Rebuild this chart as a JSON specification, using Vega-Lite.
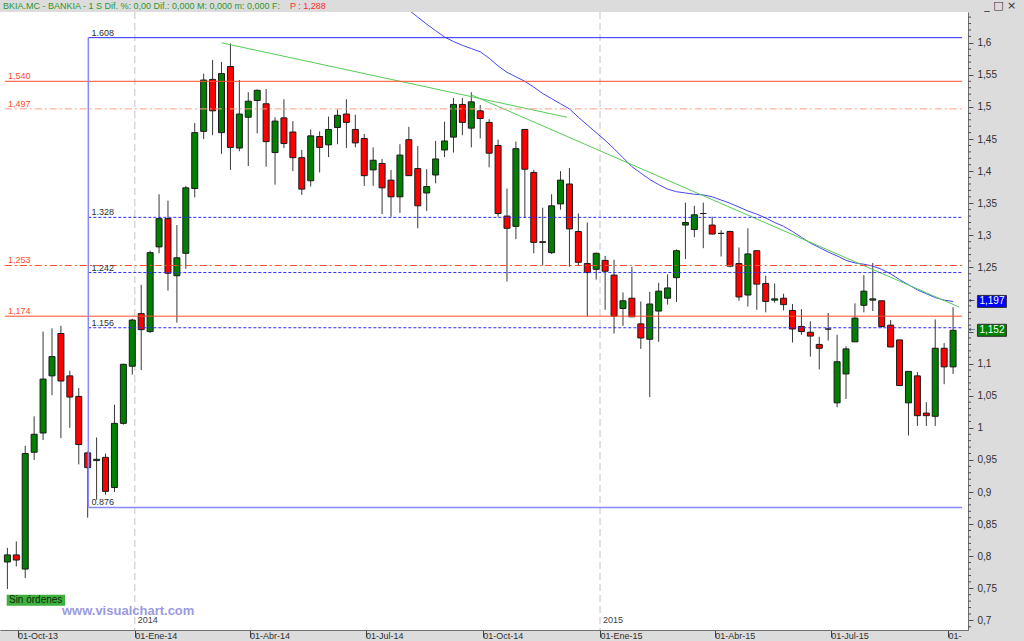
{
  "$schema": "https://vega.github.io/schema/vega-lite/v6.json",
  "width": 968,
  "height": 618,
  "autosize": {"type": "none"},
  "padding": {"left": 0, "top": 12, "right": 56, "bottom": 11},
  "background": "#dcdcdc",
  "config": {"view": {"fill": "#ffffff", "stroke": null}, "font": "Liberation Sans", "axis": {"labelOverlap": false}},
  "datasets": {
    "velas": [
      {"d":"2013-09-23","o":0.791,"h":0.813,"l":0.749,"c":0.802},
      {"d":"2013-09-30","o":0.802,"h":0.823,"l":0.784,"c":0.794},
      {"d":"2013-10-07","o":0.780,"h":0.972,"l":0.766,"c":0.960},
      {"d":"2013-10-14","o":0.962,"h":1.018,"l":0.950,"c":0.990},
      {"d":"2013-10-21","o":0.992,"h":1.150,"l":0.981,"c":1.076},
      {"d":"2013-10-28","o":1.081,"h":1.155,"l":1.051,"c":1.111},
      {"d":"2013-11-04","o":1.147,"h":1.159,"l":0.984,"c":1.073},
      {"d":"2013-11-11","o":1.081,"h":1.089,"l":1.000,"c":1.048},
      {"d":"2013-11-18","o":1.049,"h":1.062,"l":0.943,"c":0.974},
      {"d":"2013-11-25","o":0.961,"h":0.963,"l":0.860,"c":0.938},
      {"d":"2013-12-02","o":0.949,"h":0.985,"l":0.888,"c":0.951},
      {"d":"2013-12-09","o":0.954,"h":0.960,"l":0.896,"c":0.901},
      {"d":"2013-12-16","o":0.907,"h":1.036,"l":0.900,"c":1.007},
      {"d":"2013-12-23","o":1.007,"h":1.100,"l":1.005,"c":1.099},
      {"d":"2013-12-30","o":1.096,"h":1.170,"l":1.083,"c":1.168},
      {"d":"2014-01-06","o":1.178,"h":1.223,"l":1.090,"c":1.153},
      {"d":"2014-01-13","o":1.150,"h":1.276,"l":1.148,"c":1.273},
      {"d":"2014-01-20","o":1.282,"h":1.364,"l":1.272,"c":1.326},
      {"d":"2014-01-27","o":1.326,"h":1.354,"l":1.214,"c":1.241},
      {"d":"2014-02-03","o":1.237,"h":1.316,"l":1.164,"c":1.265},
      {"d":"2014-02-10","o":1.272,"h":1.377,"l":1.248,"c":1.374},
      {"d":"2014-02-17","o":1.373,"h":1.475,"l":1.359,"c":1.460},
      {"d":"2014-02-24","o":1.462,"h":1.552,"l":1.450,"c":1.542},
      {"d":"2014-03-03","o":1.543,"h":1.573,"l":1.456,"c":1.494},
      {"d":"2014-03-10","o":1.460,"h":1.570,"l":1.427,"c":1.552},
      {"d":"2014-03-17","o":1.563,"h":1.599,"l":1.402,"c":1.437},
      {"d":"2014-03-24","o":1.436,"h":1.542,"l":1.431,"c":1.489},
      {"d":"2014-03-31","o":1.484,"h":1.523,"l":1.408,"c":1.509},
      {"d":"2014-04-07","o":1.510,"h":1.527,"l":1.459,"c":1.526},
      {"d":"2014-04-14","o":1.505,"h":1.528,"l":1.407,"c":1.446},
      {"d":"2014-04-21","o":1.429,"h":1.484,"l":1.379,"c":1.478},
      {"d":"2014-04-28","o":1.483,"h":1.512,"l":1.436,"c":1.443},
      {"d":"2014-05-05","o":1.461,"h":1.478,"l":1.400,"c":1.421},
      {"d":"2014-05-12","o":1.421,"h":1.433,"l":1.363,"c":1.372},
      {"d":"2014-05-19","o":1.385,"h":1.465,"l":1.376,"c":1.455},
      {"d":"2014-05-26","o":1.454,"h":1.462,"l":1.398,"c":1.437},
      {"d":"2014-06-02","o":1.441,"h":1.485,"l":1.422,"c":1.465},
      {"d":"2014-06-09","o":1.468,"h":1.496,"l":1.442,"c":1.487},
      {"d":"2014-06-16","o":1.489,"h":1.512,"l":1.436,"c":1.476},
      {"d":"2014-06-23","o":1.465,"h":1.488,"l":1.437,"c":1.444},
      {"d":"2014-06-30","o":1.451,"h":1.458,"l":1.377,"c":1.393},
      {"d":"2014-07-07","o":1.402,"h":1.437,"l":1.377,"c":1.417},
      {"d":"2014-07-14","o":1.412,"h":1.419,"l":1.333,"c":1.374},
      {"d":"2014-07-21","o":1.386,"h":1.402,"l":1.329,"c":1.360},
      {"d":"2014-07-28","o":1.360,"h":1.442,"l":1.335,"c":1.425},
      {"d":"2014-08-04","o":1.449,"h":1.469,"l":1.393,"c":1.393},
      {"d":"2014-08-11","o":1.404,"h":1.439,"l":1.311,"c":1.346},
      {"d":"2014-08-18","o":1.366,"h":1.403,"l":1.338,"c":1.376},
      {"d":"2014-08-25","o":1.394,"h":1.447,"l":1.381,"c":1.419},
      {"d":"2014-09-01","o":1.433,"h":1.477,"l":1.422,"c":1.447},
      {"d":"2014-09-08","o":1.453,"h":1.514,"l":1.429,"c":1.504},
      {"d":"2014-09-15","o":1.504,"h":1.514,"l":1.456,"c":1.476},
      {"d":"2014-09-22","o":1.467,"h":1.523,"l":1.437,"c":1.508},
      {"d":"2014-09-29","o":1.494,"h":1.503,"l":1.451,"c":1.482},
      {"d":"2014-10-06","o":1.476,"h":1.481,"l":1.406,"c":1.428},
      {"d":"2014-10-13","o":1.440,"h":1.449,"l":1.329,"c":1.334},
      {"d":"2014-10-20","o":1.330,"h":1.373,"l":1.228,"c":1.311},
      {"d":"2014-10-27","o":1.314,"h":1.446,"l":1.294,"c":1.435},
      {"d":"2014-11-03","o":1.465,"h":1.465,"l":1.327,"c":1.403},
      {"d":"2014-11-10","o":1.398,"h":1.402,"l":1.272,"c":1.289},
      {"d":"2014-11-17","o":1.290,"h":1.343,"l":1.253,"c":1.289},
      {"d":"2014-11-24","o":1.273,"h":1.364,"l":1.271,"c":1.346},
      {"d":"2014-12-01","o":1.349,"h":1.400,"l":1.340,"c":1.386},
      {"d":"2014-12-08","o":1.380,"h":1.405,"l":1.251,"c":1.310},
      {"d":"2014-12-15","o":1.306,"h":1.334,"l":1.252,"c":1.258},
      {"d":"2014-12-22","o":1.256,"h":1.320,"l":1.174,"c":1.242},
      {"d":"2014-12-29","o":1.247,"h":1.273,"l":1.231,"c":1.272},
      {"d":"2015-01-05","o":1.261,"h":1.268,"l":1.184,"c":1.244},
      {"d":"2015-01-12","o":1.238,"h":1.262,"l":1.147,"c":1.174},
      {"d":"2015-01-19","o":1.186,"h":1.211,"l":1.159,"c":1.198},
      {"d":"2015-01-26","o":1.202,"h":1.251,"l":1.173,"c":1.173},
      {"d":"2015-02-02","o":1.162,"h":1.197,"l":1.123,"c":1.140},
      {"d":"2015-02-09","o":1.138,"h":1.212,"l":1.048,"c":1.193},
      {"d":"2015-02-16","o":1.182,"h":1.226,"l":1.134,"c":1.213},
      {"d":"2015-02-23","o":1.202,"h":1.239,"l":1.192,"c":1.218},
      {"d":"2015-03-02","o":1.234,"h":1.278,"l":1.196,"c":1.276},
      {"d":"2015-03-09","o":1.316,"h":1.351,"l":1.263,"c":1.320},
      {"d":"2015-03-16","o":1.309,"h":1.346,"l":1.297,"c":1.332},
      {"d":"2015-03-23","o":1.334,"h":1.351,"l":1.280,"c":1.334},
      {"d":"2015-03-30","o":1.316,"h":1.329,"l":1.302,"c":1.302},
      {"d":"2015-04-06","o":1.303,"h":1.308,"l":1.267,"c":1.303},
      {"d":"2015-04-13","o":1.306,"h":1.307,"l":1.250,"c":1.252},
      {"d":"2015-04-20","o":1.256,"h":1.281,"l":1.198,"c":1.204},
      {"d":"2015-04-27","o":1.207,"h":1.311,"l":1.189,"c":1.271},
      {"d":"2015-05-04","o":1.276,"h":1.276,"l":1.184,"c":1.224},
      {"d":"2015-05-11","o":1.225,"h":1.237,"l":1.180,"c":1.197},
      {"d":"2015-05-18","o":1.199,"h":1.225,"l":1.195,"c":1.201},
      {"d":"2015-05-25","o":1.202,"h":1.209,"l":1.183,"c":1.192},
      {"d":"2015-06-01","o":1.183,"h":1.193,"l":1.133,"c":1.154},
      {"d":"2015-06-08","o":1.158,"h":1.185,"l":1.145,"c":1.150},
      {"d":"2015-06-15","o":1.149,"h":1.166,"l":1.111,"c":1.143},
      {"d":"2015-06-22","o":1.130,"h":1.142,"l":1.091,"c":1.124},
      {"d":"2015-06-29","o":1.154,"h":1.179,"l":1.136,"c":1.154},
      {"d":"2015-07-06","o":1.039,"h":1.145,"l":1.032,"c":1.103},
      {"d":"2015-07-13","o":1.084,"h":1.127,"l":1.045,"c":1.123},
      {"d":"2015-07-20","o":1.134,"h":1.194,"l":1.134,"c":1.171},
      {"d":"2015-07-27","o":1.191,"h":1.238,"l":1.180,"c":1.213},
      {"d":"2015-08-03","o":1.199,"h":1.257,"l":1.182,"c":1.201},
      {"d":"2015-08-10","o":1.198,"h":1.198,"l":1.156,"c":1.158},
      {"d":"2015-08-17","o":1.160,"h":1.168,"l":1.126,"c":1.126},
      {"d":"2015-08-24","o":1.137,"h":1.137,"l":1.066,"c":1.066},
      {"d":"2015-08-31","o":1.039,"h":1.088,"l":0.988,"c":1.088},
      {"d":"2015-09-07","o":1.081,"h":1.087,"l":1.003,"c":1.019},
      {"d":"2015-09-14","o":1.023,"h":1.040,"l":1.003,"c":1.019},
      {"d":"2015-09-21","o":1.018,"h":1.169,"l":1.003,"c":1.124},
      {"d":"2015-09-28","o":1.124,"h":1.132,"l":1.068,"c":1.095},
      {"d":"2015-10-05","o":1.095,"h":1.188,"l":1.084,"c":1.152}
    ],
    "media": [
      {"d":"2014-07-28","v":1.662},{"d":"2014-08-04","v":1.651},{"d":"2014-08-11","v":1.640},{"d":"2014-08-18","v":1.629},
      {"d":"2014-08-25","v":1.619},{"d":"2014-09-01","v":1.609},{"d":"2014-09-08","v":1.602},{"d":"2014-09-15","v":1.596},
      {"d":"2014-09-22","v":1.591},{"d":"2014-09-29","v":1.586},{"d":"2014-10-06","v":1.576},{"d":"2014-10-13","v":1.564},
      {"d":"2014-10-20","v":1.554},{"d":"2014-10-27","v":1.547},{"d":"2014-11-03","v":1.540},{"d":"2014-11-10","v":1.531},
      {"d":"2014-11-17","v":1.521},{"d":"2014-11-24","v":1.513},{"d":"2014-12-01","v":1.505},{"d":"2014-12-08","v":1.497},
      {"d":"2014-12-15","v":1.484},{"d":"2014-12-22","v":1.472},{"d":"2014-12-29","v":1.460},{"d":"2015-01-05","v":1.448},
      {"d":"2015-01-12","v":1.435},{"d":"2015-01-19","v":1.421},{"d":"2015-01-26","v":1.407},{"d":"2015-02-02","v":1.397},
      {"d":"2015-02-09","v":1.387},{"d":"2015-02-16","v":1.379},{"d":"2015-02-23","v":1.372},{"d":"2015-03-02","v":1.368},
      {"d":"2015-03-09","v":1.366},{"d":"2015-03-16","v":1.364},{"d":"2015-03-23","v":1.363},{"d":"2015-03-30","v":1.360},
      {"d":"2015-04-06","v":1.355},{"d":"2015-04-13","v":1.350},{"d":"2015-04-20","v":1.344},{"d":"2015-04-27","v":1.338},
      {"d":"2015-05-04","v":1.333},{"d":"2015-05-11","v":1.327},{"d":"2015-05-18","v":1.320},{"d":"2015-05-25","v":1.314},
      {"d":"2015-06-01","v":1.306},{"d":"2015-06-08","v":1.297},{"d":"2015-06-15","v":1.288},{"d":"2015-06-22","v":1.281},
      {"d":"2015-06-29","v":1.274},{"d":"2015-07-06","v":1.268},{"d":"2015-07-13","v":1.261},{"d":"2015-07-20","v":1.257},
      {"d":"2015-07-27","v":1.255},{"d":"2015-08-03","v":1.252},{"d":"2015-08-10","v":1.247},{"d":"2015-08-17","v":1.240},
      {"d":"2015-08-24","v":1.231},{"d":"2015-08-31","v":1.223},{"d":"2015-09-07","v":1.215},{"d":"2015-09-14","v":1.209},
      {"d":"2015-09-21","v":1.203},{"d":"2015-09-28","v":1.199},{"d":"2015-10-05","v":1.197}
    ],
    "tendencias": [
      {"id":"a","d":"2014-03-10","v":1.600},{"id":"a","d":"2014-12-06","v":1.484},
      {"id":"b","d":"2014-09-22","v":1.519},{"id":"b","d":"2015-10-10","v":1.188}
    ],
    "niveles": [
      {"v":1.540,"t":"1,540","g":"rojo"},
      {"v":1.174,"t":"1,174","g":"rojo"},
      {"v":1.253,"t":"1,253","g":"rojoDash"},
      {"v":1.497,"t":"1,497","g":"rojoClaro"},
      {"v":1.328,"t":"1.328","g":"fibo"},
      {"v":1.242,"t":"1.242","g":"fibo"},
      {"v":1.156,"t":"1.156","g":"fibo"},
      {"v":1.608,"t":"1.608","g":"rangoAlto"},
      {"v":0.876,"t":"0.876","g":"rangoBajo"}
    ],
    "menores": [
      {"v":0.69},{"v":0.71},{"v":0.72},{"v":0.73},{"v":0.74},{"v":0.76},{"v":0.77},{"v":0.78},{"v":0.79},
      {"v":0.81},{"v":0.82},{"v":0.83},{"v":0.84},{"v":0.86},{"v":0.87},{"v":0.88},{"v":0.89},
      {"v":0.91},{"v":0.92},{"v":0.93},{"v":0.94},{"v":0.96},{"v":0.97},{"v":0.98},{"v":0.99},
      {"v":1.01},{"v":1.02},{"v":1.03},{"v":1.04},{"v":1.06},{"v":1.07},{"v":1.08},{"v":1.09},
      {"v":1.11},{"v":1.12},{"v":1.13},{"v":1.14},{"v":1.16},{"v":1.17},{"v":1.18},{"v":1.19},
      {"v":1.21},{"v":1.22},{"v":1.23},{"v":1.24},{"v":1.26},{"v":1.27},{"v":1.28},{"v":1.29},
      {"v":1.31},{"v":1.32},{"v":1.33},{"v":1.34},{"v":1.36},{"v":1.37},{"v":1.38},{"v":1.39},
      {"v":1.41},{"v":1.42},{"v":1.43},{"v":1.44},{"v":1.46},{"v":1.47},{"v":1.48},{"v":1.49},
      {"v":1.51},{"v":1.52},{"v":1.53},{"v":1.54},{"v":1.56},{"v":1.57},{"v":1.58},{"v":1.59},
      {"v":1.61},{"v":1.62},{"v":1.63},{"v":1.64}
    ],
    "anios": [{"d":"2014-01-01","t":"2014"},{"d":"2015-01-01","t":"2015"}],
    "etiquetas": [{"v":1.197,"t":"1,197","serie":"media"},{"v":1.152,"t":"1,152","serie":"cierre"}]
  },
  "layer": [
    {
      "data": {"name": "anios"},
      "mark": {"type": "rule", "color": "#c4c4c4", "strokeDash": [7, 4], "strokeWidth": 1},
      "encoding": {
        "x": {
          "field": "d", "type": "temporal",
          "scale": {"type": "utc", "padding": 0, "domain": [{"year": 2013, "month": 9, "date": 17, "hours": 5, "utc": true}, {"year": 2015, "month": 10, "date": 16, "hours": 17, "utc": true}]},
          "axis": {
            "orient": "bottom", "title": null, "grid": false, "tickCount": 50,
            "values": [
              {"year": 2013, "month": 10, "date": 1, "utc": true},
              {"year": 2014, "month": 1, "date": 1, "utc": true},
              {"year": 2014, "month": 4, "date": 1, "utc": true},
              {"year": 2014, "month": 7, "date": 1, "utc": true},
              {"year": 2014, "month": 10, "date": 1, "utc": true},
              {"year": 2015, "month": 1, "date": 1, "utc": true},
              {"year": 2015, "month": 4, "date": 1, "utc": true},
              {"year": 2015, "month": 7, "date": 1, "utc": true},
              {"year": 2015, "month": 10, "date": 1, "utc": true}
            ],
            "labelExpr": "(utcyear(datum.value) == 2015 && utcmonth(datum.value) == 9) ? '01-' : '01-' + ['Ene','Feb','Mar','Abr','May','Jun','Jul','Ago','Sep','Oct','Nov','Dic'][utcmonth(datum.value)] + '-' + utcFormat(datum.value, '%y')",
            "labelAlign": "left", "labelBaseline": "top", "labelPadding": -6, "labelDx": 2,
            "tickSize": 7, "tickColor": "#404040", "domainColor": "#707070",
            "labelFontSize": 9, "labelColor": "#303030", "labelFont": "Liberation Sans",
            "labelOverlap": false, "labelFlush": false, "labelBound": false
          }
        }
      }
    },
    {
      "data": {"name": "velas"},
      "mark": {"type": "rule", "color": "#383838", "strokeWidth": 1},
      "encoding": {
        "x": {"field": "d", "type": "temporal"},
        "y": {
          "field": "l", "type": "quantitative",
          "scale": {"domain": [0.685, 1.648], "nice": false, "zero": false, "padding": 0},
          "axis": {
            "orient": "right", "title": null, "grid": false, "tickCount": 100,
            "values": [0.7,0.75,0.8,0.85,0.9,0.95,1,1.05,1.1,1.15,1.2,1.25,1.3,1.35,1.4,1.45,1.5,1.55,1.6],
            "labelExpr": "(datum.value == 1.15 || datum.value == 1.2) ? '' : replace(format(datum.value, '.2~f'), '.', ',')",
            "tickSize": 5,
            "labelPadding": 4, "labelFontSize": 10, "labelColor": "#303030", "labelFont": "Liberation Sans",
            "labelAlign": "left", "labelBaseline": "middle",
            "domainColor": "#707070", "tickColor": "#505050",
            "labelOverlap": false, "labelBound": false, "labelFlush": false
          }
        },
        "y2": {"field": "h"}
      }
    },
    {
      "data": {"name": "media"},
      "mark": {"type": "line", "color": "#4646f2", "strokeWidth": 1, "clip": true},
      "encoding": {
        "x": {"field": "d", "type": "temporal"},
        "y": {"field": "v", "type": "quantitative"}
      }
    },
    {
      "data": {"name": "tendencias"},
      "mark": {"type": "line", "color": "#55cc55", "strokeWidth": 1},
      "encoding": {
        "x": {"field": "d", "type": "temporal"},
        "y": {"field": "v", "type": "quantitative"},
        "detail": {"field": "id"}
      }
    },
    {
      "data": {"name": "velas"},
      "mark": {"type": "bar", "width": 6, "stroke": "#1a1a1a", "strokeWidth": 1},
      "encoding": {
        "x": {"field": "d", "type": "temporal"},
        "y": {"field": "o", "type": "quantitative"},
        "y2": {"field": "c"},
        "color": {"condition": {"test": "datum.c >= datum.o", "value": "#008000"}, "value": "#ff0000"}
      }
    },
    {
      "data": {"name": "menores"},
      "mark": {"type": "rule", "color": "#505050", "strokeWidth": 1},
      "encoding": {
        "x": {"datum": {"year": 2015, "month": 10, "date": 16, "hours": 17, "utc": true}, "type": "temporal"},
        "x2": {"datum": {"year": 2015, "month": 10, "date": 19, "hours": 2, "utc": true}},
        "y": {"field": "v", "type": "quantitative"}
      }
    },
    {
      "data": {"name": "niveles"},
      "transform": [{"filter": "datum.g == 'rojo'"}],
      "mark": {"type": "rule", "color": "#ff4c2c", "strokeWidth": 1},
      "encoding": {
        "x": {"datum": {"year": 2013, "month": 9, "date": 21, "utc": true}, "type": "temporal"},
        "x2": {"datum": {"year": 2015, "month": 10, "date": 12, "utc": true}},
        "y": {"field": "v", "type": "quantitative"}
      }
    },
    {
      "data": {"name": "niveles"},
      "transform": [{"filter": "datum.g == 'rojoDash'"}],
      "mark": {"type": "rule", "color": "#ff4c2c", "strokeWidth": 1, "strokeDash": [7, 3, 2, 3]},
      "encoding": {
        "x": {"datum": {"year": 2013, "month": 9, "date": 21, "utc": true}, "type": "temporal"},
        "x2": {"datum": {"year": 2015, "month": 10, "date": 12, "utc": true}},
        "y": {"field": "v", "type": "quantitative"}
      }
    },
    {
      "data": {"name": "niveles"},
      "transform": [{"filter": "datum.g == 'rojoClaro'"}],
      "mark": {"type": "rule", "color": "#ff9f88", "strokeWidth": 1, "strokeDash": [7, 3, 2, 3]},
      "encoding": {
        "x": {"datum": {"year": 2013, "month": 9, "date": 21, "utc": true}, "type": "temporal"},
        "x2": {"datum": {"year": 2015, "month": 10, "date": 12, "utc": true}},
        "y": {"field": "v", "type": "quantitative"}
      }
    },
    {
      "data": {"name": "niveles"},
      "transform": [{"filter": "datum.g == 'fibo'"}],
      "mark": {"type": "rule", "color": "#2a2aff", "strokeWidth": 1, "strokeDash": [3, 2]},
      "encoding": {
        "x": {"datum": {"year": 2013, "month": 11, "date": 25, "hours": 12, "utc": true}, "type": "temporal"},
        "x2": {"datum": {"year": 2015, "month": 10, "date": 12, "utc": true}},
        "y": {"field": "v", "type": "quantitative"}
      }
    },
    {
      "data": {"name": "niveles"},
      "transform": [{"filter": "datum.g == 'rangoAlto'"}],
      "mark": {"type": "rule", "color": "#2a2aff", "strokeWidth": 1},
      "encoding": {
        "x": {"datum": {"year": 2013, "month": 11, "date": 25, "hours": 12, "utc": true}, "type": "temporal"},
        "x2": {"datum": {"year": 2015, "month": 10, "date": 12, "utc": true}},
        "y": {"field": "v", "type": "quantitative"}
      }
    },
    {
      "data": {"name": "niveles"},
      "transform": [{"filter": "datum.g == 'rangoBajo'"}],
      "mark": {"type": "rule", "color": "#8888ff", "strokeWidth": 1.5},
      "encoding": {
        "x": {"datum": {"year": 2013, "month": 11, "date": 25, "hours": 12, "utc": true}, "type": "temporal"},
        "x2": {"datum": {"year": 2015, "month": 10, "date": 12, "utc": true}},
        "y": {"field": "v", "type": "quantitative"}
      }
    },
    {
      "data": {"values": [{}]},
      "mark": {"type": "rule", "color": "#8888ff", "strokeWidth": 1.5},
      "encoding": {
        "x": {"datum": {"year": 2013, "month": 11, "date": 25, "hours": 12, "utc": true}, "type": "temporal"},
        "y": {"datum": 0.876, "type": "quantitative"},
        "y2": {"datum": 1.608}
      }
    },
    {
      "data": {"name": "niveles"},
      "transform": [{"filter": "indexof(datum.g, 'rojo') == 0"}],
      "mark": {"type": "text", "align": "left", "baseline": "alphabetic", "dy": -2, "fontSize": 9, "color": "#ff4c2c", "font": "Liberation Sans"},
      "encoding": {
        "x": {"datum": {"year": 2013, "month": 9, "date": 23, "hours": 12, "utc": true}, "type": "temporal"},
        "y": {"field": "v", "type": "quantitative"},
        "text": {"field": "t"}
      }
    },
    {
      "data": {"name": "niveles"},
      "transform": [{"filter": "indexof(datum.g, 'rojo') != 0"}],
      "mark": {"type": "text", "align": "left", "baseline": "alphabetic", "dy": -2, "fontSize": 9, "color": "#303030", "font": "Liberation Sans"},
      "encoding": {
        "x": {"datum": {"year": 2013, "month": 11, "date": 28, "utc": true}, "type": "temporal"},
        "y": {"field": "v", "type": "quantitative"},
        "text": {"field": "t"}
      }
    },
    {
      "data": {"name": "anios"},
      "mark": {"type": "text", "align": "left", "baseline": "alphabetic", "dx": 3, "dy": 1, "fontSize": 9, "color": "#404040", "font": "Liberation Sans"},
      "encoding": {
        "x": {"field": "d", "type": "temporal"},
        "y": {"datum": 0.697, "type": "quantitative"},
        "text": {"field": "t"}
      }
    },
    {
      "data": {"values": [{"t": "www.visualchart.com"}]},
      "mark": {"type": "text", "align": "left", "baseline": "alphabetic", "fontSize": 13, "fontWeight": "bold", "color": "#9a9ae0", "font": "Liberation Sans"},
      "encoding": {
        "x": {"datum": {"year": 2013, "month": 11, "date": 4, "hours": 19, "utc": true}, "type": "temporal"},
        "y": {"datum": 0.708, "type": "quantitative"},
        "text": {"field": "t"}
      }
    },
    {
      "data": {"values": [{}]},
      "mark": {"type": "rect", "color": "#3db03d"},
      "encoding": {
        "x": {"datum": {"year": 2013, "month": 9, "date": 22, "hours": 11, "utc": true}, "type": "temporal"},
        "x2": {"datum": {"year": 2013, "month": 11, "date": 7, "hours": 5, "utc": true}},
        "y": {"datum": 0.7399, "type": "quantitative"},
        "y2": {"datum": 0.7227}
      }
    },
    {
      "data": {"values": [{"t": "Sin órdenes"}]},
      "mark": {"type": "text", "align": "left", "baseline": "middle", "fontSize": 10, "color": "#102810", "font": "Liberation Sans"},
      "encoding": {
        "x": {"datum": {"year": 2013, "month": 9, "date": 24, "hours": 6, "utc": true}, "type": "temporal"},
        "y": {"datum": 0.7313, "type": "quantitative"},
        "text": {"field": "t"}
      }
    },
    {
      "data": {"values": [{"t": "BKIA.MC - BANKIA - 1 S Dif. %: 0,00 Dif.: 0,000 M: 0,000 m: 0,000 F:"}]},
      "mark": {"type": "text", "align": "left", "baseline": "middle", "fontSize": 9, "color": "#2e962e", "font": "Liberation Sans"},
      "encoding": {
        "x": {"datum": {"year": 2013, "month": 9, "date": 19, "hours": 12, "utc": true}, "type": "temporal"},
        "y": {"datum": 1.6573, "type": "quantitative"},
        "text": {"field": "t"}
      }
    },
    {
      "data": {"values": [{"t": "P : 1,288"}]},
      "mark": {"type": "text", "align": "left", "baseline": "middle", "fontSize": 9, "color": "#ff2a2a", "font": "Liberation Sans"},
      "encoding": {
        "x": {"datum": {"year": 2014, "month": 5, "date": 2, "hours": 17, "utc": true}, "type": "temporal"},
        "y": {"datum": 1.6573, "type": "quantitative"},
        "text": {"field": "t"}
      }
    },
    {
      "data": {"values": [{"t": "_ □ ×"}]},
      "mark": {"type": "text", "align": "center", "baseline": "middle", "fontSize": 11, "color": "#303030", "font": "DejaVu Sans"},
      "encoding": {
        "x": {"datum": {"year": 2015, "month": 11, "date": 11, "utc": true}, "type": "temporal"},
        "y": {"datum": 1.6573, "type": "quantitative"},
        "text": {"field": "t"}
      }
    },
    {
      "data": {"name": "etiquetas"},
      "mark": {"type": "point", "shape": "M-1.45,-0.6H1.45V0.6H-1.45Z", "size": 400, "filled": true, "opacity": 1, "stroke": "#303030", "strokeWidth": 1},
      "encoding": {
        "x": {"datum": {"year": 2015, "month": 11, "date": 4, "hours": 12, "utc": true}, "type": "temporal"},
        "y": {"field": "v", "type": "quantitative"},
        "color": {"field": "serie", "type": "nominal", "scale": {"domain": ["media", "cierre"], "range": ["#0000ff", "#008000"]}, "legend": null}
      }
    },
    {
      "data": {"name": "etiquetas"},
      "mark": {"type": "text", "align": "center", "baseline": "middle", "fontSize": 10, "color": "#ffffff", "font": "Liberation Sans"},
      "encoding": {
        "x": {"datum": {"year": 2015, "month": 11, "date": 4, "hours": 12, "utc": true}, "type": "temporal"},
        "y": {"field": "v", "type": "quantitative"},
        "text": {"field": "t"}
      }
    },
    {
      "data": {"name": "etiquetas"},
      "mark": {"type": "text", "align": "center", "baseline": "middle", "fontSize": 8, "color": "#404040", "font": "DejaVu Sans"},
      "encoding": {
        "x": {"datum": {"year": 2015, "month": 10, "date": 20, "utc": true}, "type": "temporal"},
        "y": {"field": "v", "type": "quantitative"},
        "text": {"value": "←"}
      }
    }
  ]
}
